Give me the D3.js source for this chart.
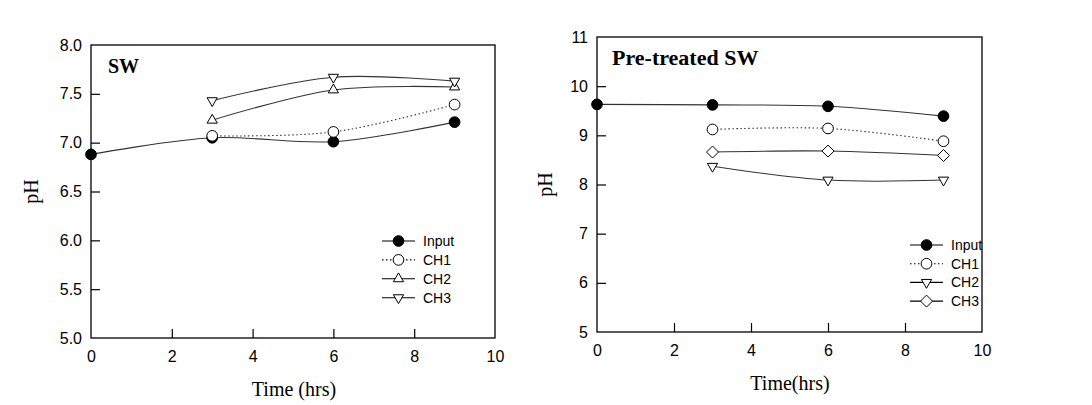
<!DOCTYPE html>
<html>
<head>
<meta charset="utf-8">
<script src="https://cdn.jsdelivr.net/npm/d3@7"></script>
<style>
  body { margin: 0; background: #fff; }
  svg { display: block; }
  .tick text { font-family: "Liberation Sans", Arial, sans-serif; font-size: 16px; fill: #000; }
  .ttl { font-family: "Liberation Serif", "Times New Roman", serif; font-size: 20px; fill: #000; }
  .panel { font-family: "Liberation Serif", "Times New Roman", serif; font-weight: bold; fill: #000; }
  .leg { font-family: "Liberation Sans", Arial, sans-serif; font-size: 14px; fill: #000; }
</style>
</head>
<body>
<svg id="chart" width="1092" height="405"></svg>
<script>
// sampling times (hrs)
var timesInput = [0, 3, 6, 9];
var timesCH = [3, 6, 9];

// SW panel
var swInput = [6.88, 7.05, 7.01, 7.21];
var swCH1 = [7.07, 7.11, 7.39];
var swCH2 = [7.23, 7.54, 7.57];
var swCH3 = [7.43, 7.67, 7.63];

// Pre-treated SW panel
var ptInput = [9.63, 9.62, 9.59, 9.39];
var ptCH1 = [9.12, 9.14, 8.88];
var ptCH2 = [8.37, 8.09, 8.09];
var ptCH3 = [8.66, 8.68, 8.59];

var xTicks = [0, 2, 4, 6, 8, 10];
var swTicks = [5.0, 5.5, 6.0, 6.5, 7.0, 7.5, 8.0];
var ptTicks = [5, 6, 7, 8, 9, 10, 11];

var svg = d3.select("#chart");

function symbolPath(kind) {
  if (kind === "circle") return d3.symbol().type(d3.symbolCircle).size(90)();
  if (kind === "diamond") return "M0,-6L6,0L0,6L-6,0Z";
  // up / down triangle
  return d3.symbol().type(d3.symbolTriangle).size(45)();
}

function drawPanel(opt) {
  var g = svg.append("g").attr("transform", "translate(" + opt.left + "," + opt.top + ")");
  var w = opt.width, h = opt.height;
  var x = d3.scaleLinear().domain([0, 10]).range([0, w]);
  var y = d3.scaleLinear().domain(opt.yDomain).range([h, 0]);

  g.append("rect").attr("width", w).attr("height", h)
    .attr("fill", "none").attr("stroke", "#000").attr("stroke-width", 1.3);

  var xAxis = g.append("g").attr("transform", "translate(0," + h + ")")
    .call(d3.axisBottom(x).tickValues(xTicks).tickSizeInner(-9).tickSizeOuter(0).tickPadding(13)
      .tickFormat(d3.format("d")));
  xAxis.select(".domain").remove();
  xAxis.selectAll(".tick line").attr("stroke-width", 1.2);
  xAxis.selectAll(".tick").filter(function (d) { return d === 0 || d === 10; }).select("line").remove();

  var yAxis = g.append("g")
    .call(d3.axisLeft(y).tickValues(opt.yTicks).tickSizeInner(-9).tickSizeOuter(0).tickPadding(9)
      .tickFormat(opt.yFormat));
  yAxis.select(".domain").remove();
  yAxis.selectAll(".tick line").attr("stroke-width", 1.2);
  yAxis.selectAll(".tick").filter(function (d, i) { return i === 0 || i === opt.yTicks.length - 1; })
    .select("line").remove();

  g.append("text").attr("class", "ttl").attr("text-anchor", "middle")
    .attr("x", opt.xTitleX).attr("y", h + 58).text(opt.xTitle);
  g.append("text").attr("class", "ttl").attr("text-anchor", "middle")
    .attr("transform", "translate(" + opt.yTitleX + "," + (h / 2) + ") rotate(-90)")
    .text("pH");
  g.append("text").attr("class", "panel").attr("font-size", opt.titleSize)
    .attr("x", opt.titleX).attr("y", opt.titleY).text(opt.title);

  var line = d3.line().curve(d3.curveCatmullRom.alpha(0.5))
    .x(function (d) { return x(d[0]); }).y(function (d) { return y(d[1]); });

  opt.series.forEach(function (s) {
    var pts = d3.zip(s.t, s.v);
    g.append("path").datum(pts).attr("d", line)
      .attr("fill", "none").attr("stroke", "#333").attr("stroke-width", 1.1)
      .attr("stroke-dasharray", s.dash ? "1.5,2.5" : null);
    g.selectAll(null).data(pts).enter().append("path")
      .attr("d", symbolPath(s.sym))
      .attr("transform", function (d) {
        return "translate(" + x(d[0]) + "," + y(d[1]) + ")" + (s.sym === "down" ? " rotate(180)" : "");
      })
      .attr("fill", s.sym === "circle" && s.filled ? "#000" : "#fff")
      .attr("stroke", "#000").attr("stroke-width", 1);
  });

  // legend
  var lg = g.append("g").attr("transform", "translate(" + opt.legX + "," + opt.legY + ")");
  opt.series.forEach(function (s, i) {
    var row = lg.append("g").attr("transform", "translate(0," + (i * opt.legStep) + ")");
    row.append("line").attr("x1", 0).attr("x2", 33).attr("y1", 0).attr("y2", 0)
      .attr("stroke", "#000").attr("stroke-width", 1.1)
      .attr("stroke-dasharray", s.dash ? "1.5,2.5" : null);
    row.append("path").attr("d", symbolPath(s.sym))
      .attr("transform", "translate(16.5,0)" + (s.sym === "down" ? " rotate(180)" : ""))
      .attr("fill", s.sym === "circle" && s.filled ? "#000" : "#fff")
      .attr("stroke", "#000").attr("stroke-width", 1);
    row.append("text").attr("class", "leg").attr("x", 41).attr("y", 5).text(s.name);
  });
}

drawPanel({
  left: 91, top: 45, width: 404, height: 293,
  yDomain: [5, 8], yTicks: swTicks, yFormat: d3.format(".1f"),
  xTitle: "Time (hrs)", xTitleX: 203, yTitleX: -53,
  title: "SW", titleSize: 20, titleX: 17, titleY: 28,
  legX: 291, legY: 196, legStep: 18.9,
  series: [
    { name: "Input", t: timesInput, v: swInput, sym: "circle", filled: true },
    { name: "CH1", t: timesCH, v: swCH1, sym: "circle", dash: true },
    { name: "CH2", t: timesCH, v: swCH2, sym: "up" },
    { name: "CH3", t: timesCH, v: swCH3, sym: "down" }
  ]
});

drawPanel({
  left: 597, top: 37, width: 385, height: 295,
  yDomain: [5, 11], yTicks: ptTicks, yFormat: d3.format("d"),
  xTitle: "Time(hrs)", xTitleX: 193, yTitleX: -45,
  title: "Pre-treated SW", titleSize: 22, titleX: 15, titleY: 28,
  legX: 313, legY: 208, legStep: 18.7,
  series: [
    { name: "Input", t: timesInput, v: ptInput, sym: "circle", filled: true },
    { name: "CH1", t: timesCH, v: ptCH1, sym: "circle", dash: true },
    { name: "CH2", t: timesCH, v: ptCH2, sym: "down" },
    { name: "CH3", t: timesCH, v: ptCH3, sym: "diamond" }
  ]
});
</script>
</body>
</html>
